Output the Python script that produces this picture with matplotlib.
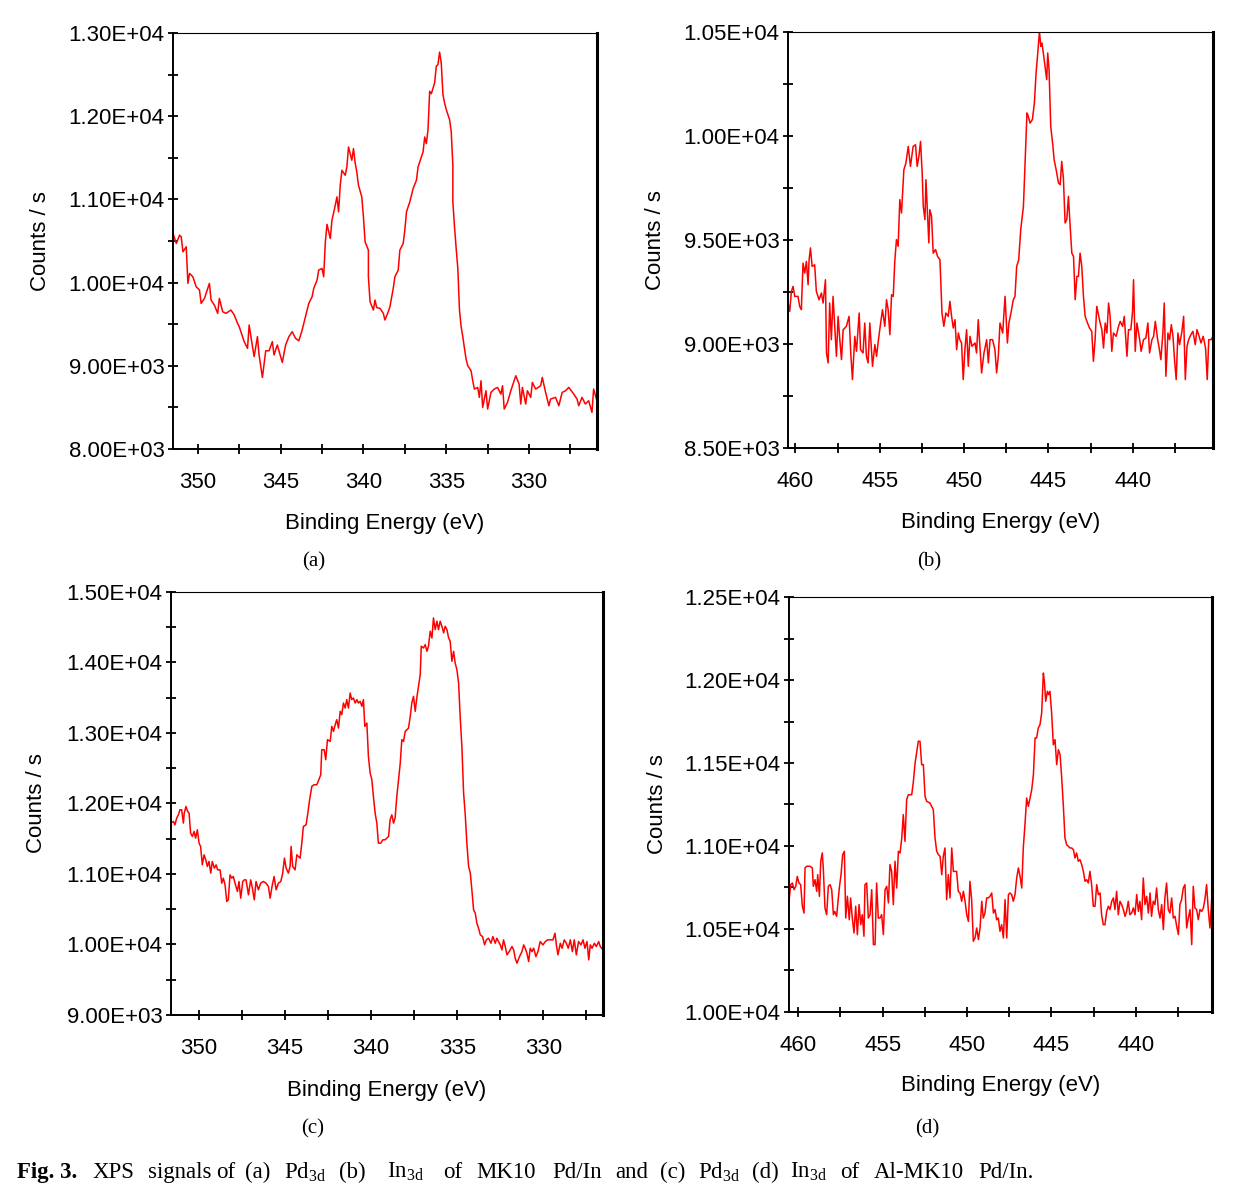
import matplotlib
matplotlib.use("Agg")  # no display
import matplotlib.pyplot as plt
from matplotlib.ticker import MultipleLocator, FuncFormatter

plt.rcParams["font.family"] = "Liberation Sans"
plt.rcParams["mathtext.fontset"] = "custom"
plt.rcParams["mathtext.rm"] = "Liberation Serif"
plt.rcParams["mathtext.it"] = "Liberation Serif:italic"
plt.rcParams["mathtext.bf"] = "Liberation Serif:bold"

# ---------------- (a) Pd3d, MK10 Pd/In ----------------
be_a = [
    351.5, 351.3, 351.1, 351.0, 350.9, 350.7, 350.6, 350.5, 350.3, 350.1,
    349.9, 349.8, 349.6, 349.3, 349.2, 349.0, 348.8, 348.7, 348.5, 348.3,
    348.0, 347.8, 347.6, 347.5, 347.2, 347.0, 346.9, 346.7, 346.6, 346.4,
    346.3, 346.1, 345.9, 345.7, 345.5, 345.4, 345.2, 344.9, 344.7, 344.5,
    344.3, 344.1, 343.9, 343.7, 343.5, 343.3, 343.1, 343.0, 342.8, 342.7,
    342.5, 342.4, 342.3, 342.2, 342.0, 341.9, 341.7, 341.6, 341.5, 341.4,
    341.3, 341.1, 341.0, 340.9, 340.7, 340.6, 340.5, 340.4, 340.3, 340.1,
    340.0, 339.9, 339.7, 339.7, 339.6, 339.4, 339.3, 339.2, 339.0, 338.8,
    338.7, 338.5, 338.4, 338.2, 338.1, 337.9, 337.8, 337.6, 337.5, 337.4,
    337.2, 337.0, 336.8, 336.7, 336.5, 336.4, 336.3, 336.2, 336.1, 336.0,
    335.9, 335.7, 335.6, 335.5, 335.4, 335.3, 335.2, 335.1, 335.0, 334.8,
    334.7, 334.6, 334.6, 334.5, 334.4, 334.3, 334.2, 334.1, 334.0, 333.9,
    333.8, 333.7, 333.5, 333.4, 333.3, 333.1, 333.0, 332.9, 332.8, 332.6,
    332.5, 332.3, 332.1, 331.9, 331.7, 331.6, 331.5, 331.3, 331.1, 330.9,
    330.8, 330.6, 330.5, 330.4, 330.2, 330.1, 329.9, 329.8, 329.6, 329.3,
    329.2, 329.0, 328.8, 328.7, 328.4, 328.2, 328.0, 327.8, 327.6, 327.3,
    327.1, 327.0, 326.8, 326.6, 326.4, 326.2, 326.1, 325.9,
]
cps_a = [
    10590, 10470, 10570, 10550, 10370, 10430, 9990, 10110, 10070, 9950,
    9910, 9750, 9810, 9990, 9790, 9730, 9630, 9810, 9650, 9630,
    9670, 9610, 9510, 9470, 9290, 9210, 9490, 9230, 9110, 9350,
    9130, 8860, 9180, 9180, 9290, 9130, 9250, 9040, 9250, 9350,
    9410, 9330, 9300, 9430, 9590, 9750, 9830, 9930, 10030, 10150,
    10170, 10070, 10490, 10700, 10530, 10750, 10930, 11030, 10850, 11170,
    11350, 11290, 11390, 11630, 11470, 11610, 11440, 11330, 11170, 11030,
    10790, 10490, 10390, 10070, 9770, 9670, 9790, 9700, 9690, 9630,
    9550, 9650, 9710, 9930, 10070, 10150, 10390, 10470, 10630, 10850,
    10970, 11130, 11230, 11390, 11510, 11570, 11750, 11670, 11840, 12300,
    12270, 12400, 12600, 12620, 12770, 12640, 12260, 12160, 12080, 11960,
    11820, 11410, 10970, 10670, 10410, 10170, 9670, 9470, 9350, 9210,
    9080, 9000, 8940, 8820, 8720, 8740, 8620, 8820, 8500, 8700,
    8480, 8680, 8720, 8740, 8660, 8760, 8480, 8560, 8700, 8820,
    8880, 8780, 8540, 8740, 8540, 8700, 8620, 8800, 8720, 8760,
    8860, 8680, 8520, 8600, 8620, 8520, 8680, 8700, 8740, 8660,
    8600, 8520, 8620, 8540, 8580, 8440, 8720, 8580,
]

# ---------------- (b) In3d, MK10 Pd/In ----------------
be_b = [
    460.44, 460.34, 460.24, 460.14, 460.04, 459.85, 459.75, 459.65, 459.55, 459.45,
    459.35, 459.25, 459.19, 459.11, 459.01, 458.86, 458.76, 458.60, 458.46, 458.36,
    458.22, 458.16, 458.06, 457.97, 457.87, 457.77, 457.67, 457.57, 457.47, 457.37,
    457.27, 457.17, 456.98, 456.82, 456.72, 456.62, 456.48, 456.38, 456.22, 456.14,
    455.99, 455.89, 455.79, 455.69, 455.59, 455.43, 455.29, 455.19, 455.10, 455.00,
    454.84, 454.70, 454.60, 454.50, 454.40, 454.30, 454.20, 454.11, 454.01, 453.91,
    453.81, 453.71, 453.57, 453.45, 453.31, 453.18, 453.02, 452.88, 452.78, 452.68,
    452.58, 452.48, 452.42, 452.32, 452.26, 452.17, 452.09, 452.03, 451.93, 451.83,
    451.69, 451.57, 451.43, 451.31, 451.20, 451.08, 450.94, 450.84, 450.74, 450.64,
    450.54, 450.44, 450.34, 450.25, 450.15, 450.05, 449.95, 449.85, 449.75, 449.65,
    449.53, 449.35, 449.26, 449.16, 449.06, 448.96, 448.82, 448.66, 448.56, 448.46,
    448.31, 448.17, 448.07, 447.97, 447.87, 447.71, 447.57, 447.43, 447.34, 447.22,
    447.08, 446.98, 446.88, 446.76, 446.64, 446.48, 446.39, 446.27, 446.19, 446.09,
    445.95, 445.83, 445.73, 445.63, 445.53, 445.45, 445.38, 445.30, 445.20, 445.10,
    445.04, 444.96, 444.86, 444.74, 444.66, 444.54, 444.40, 444.30, 444.21, 444.11,
    444.01, 443.91, 443.81, 443.71, 443.61, 443.51, 443.41, 443.31, 443.22, 443.12,
    443.02, 442.92, 442.82, 442.68, 442.56, 442.43, 442.33, 442.23, 442.13, 442.03,
    441.93, 441.83, 441.73, 441.63, 441.53, 441.43, 441.34, 441.24, 441.14, 440.98,
    440.84, 440.74, 440.60, 440.50, 440.34, 440.25, 440.11, 440.01, 439.95, 439.85,
    439.75, 439.60, 439.50, 439.36, 439.22, 439.10, 439.00, 438.86, 438.76, 438.66,
    438.52, 438.43, 438.33, 438.21, 438.13, 438.03, 437.91, 437.81, 437.71, 437.61,
    437.52, 437.42, 437.32, 437.22, 437.08, 436.98, 436.88, 436.78, 436.68, 436.55,
    436.43, 436.29, 436.19, 436.09, 435.95, 435.82, 435.68, 435.58, 435.49, 435.35,
    435.24,
]
cps_b = [
    9197, 9157, 9253, 9277, 9229, 9229, 9181, 9165, 9389, 9341,
    9397, 9285, 9405, 9462, 9373, 9381, 9253, 9213, 9245, 9197,
    9309, 8957, 8909, 9197, 9021, 9229, 9085, 8941, 9133, 9021,
    8925, 9069, 9085, 9133, 8957, 8829, 9037, 8965, 9149, 8973,
    8957, 9101, 8941, 8909, 9101, 8893, 8997, 8941, 9005, 9069,
    9165, 9085, 9213, 9165, 9045, 9237, 9229, 9397, 9502, 9470,
    9694, 9630, 9838, 9870, 9950, 9854, 9950, 9958, 9854, 9902,
    9974, 9814, 9662, 9598, 9790, 9630, 9486, 9646, 9614, 9437,
    9454, 9421, 9405, 9149, 9085, 9149, 9133, 9205, 9133, 9077,
    9117, 8973, 9053, 9021, 9005, 8829, 8973, 9069, 8893, 9037,
    8989, 9005, 8957, 9117, 8989, 8861, 8957, 9021, 8909, 9021,
    9021, 8973, 8861, 8941, 9101, 9053, 9229, 9005, 9101, 9149,
    9213, 9229, 9373, 9405, 9550, 9662, 9854, 10111, 10095, 10062,
    10079, 10159, 10303, 10399, 10503, 10431, 10447, 10399, 10335, 10271,
    10399, 10319, 10046, 9958, 9886, 9838, 9774, 9766, 9878, 9798,
    9582, 9598, 9710, 9566, 9437, 9421, 9213, 9325, 9325, 9437,
    9373, 9229, 9133, 9101, 9077, 9061, 8917, 9021, 9181, 9141,
    9101, 9069, 8981, 9101, 9053, 9197, 9133, 8965, 9053, 9037,
    9085, 9109, 9085, 9133, 8941, 9069, 9069, 9157, 9309, 8965,
    9101, 9029, 8965, 9021, 9029, 9101, 8957, 9021, 9037, 9109,
    9021, 8981, 8925, 9053, 9197, 8845, 9053, 9021, 9093, 9037,
    8925, 8829, 9053, 8997, 9061, 9133, 8829, 8989, 9021, 9045,
    9061, 8997, 9069, 9045, 9005, 9037, 8981, 8829, 9021, 9021,
    9037,
]

# ---------------- (c) Pd3d, Al-MK10 Pd/In ----------------
be_c = [
    351.63, 351.49, 351.40, 351.30, 351.20, 351.11, 351.01, 350.91, 350.86, 350.76,
    350.66, 350.58, 350.49, 350.39, 350.29, 350.20, 350.10, 350.00, 349.91, 349.81,
    349.71, 349.61, 349.52, 349.42, 349.32, 349.23, 349.11, 349.01, 348.92, 348.78,
    348.68, 348.59, 348.49, 348.39, 348.30, 348.20, 348.10, 348.01, 347.91, 347.77,
    347.68, 347.58, 347.46, 347.37, 347.27, 347.13, 347.00, 346.90, 346.79, 346.69,
    346.55, 346.42, 346.26, 346.11, 345.97, 345.87, 345.76, 345.64, 345.52, 345.39,
    345.25, 345.14, 345.04, 344.94, 344.81, 344.71, 344.65, 344.56, 344.42, 344.32,
    344.23, 344.13, 344.03, 343.94, 343.78, 343.68, 343.59, 343.45, 343.32, 343.16,
    343.04, 342.93, 342.87, 342.73, 342.64, 342.54, 342.38, 342.29, 342.19, 342.09,
    342.00, 341.90, 341.80, 341.71, 341.61, 341.51, 341.42, 341.32, 341.22, 341.13,
    341.03, 340.93, 340.83, 340.74, 340.64, 340.54, 340.45, 340.37, 340.25, 340.16,
    340.06, 339.96, 339.87, 339.77, 339.67, 339.58, 339.44, 339.32, 339.19, 338.99,
    338.90, 338.80, 338.70, 338.61, 338.51, 338.41, 338.31, 338.22, 338.12, 338.02,
    337.83, 337.73, 337.64, 337.54, 337.44, 337.35, 337.25, 337.15, 337.09, 336.96,
    336.86, 336.76, 336.67, 336.57, 336.47, 336.38, 336.28, 336.18, 336.09, 335.99,
    335.89, 335.79, 335.70, 335.60, 335.50, 335.41, 335.31, 335.21, 335.12, 335.02,
    334.92, 334.83, 334.73, 334.63, 334.54, 334.44, 334.34, 334.24, 334.15, 334.05,
    333.95, 333.86, 333.76, 333.66, 333.53, 333.41, 333.31, 333.18, 333.04, 332.93,
    332.79, 332.70, 332.60, 332.50, 332.40, 332.31, 332.21, 332.11, 331.98, 331.82,
    331.72, 331.63, 331.53, 331.38, 331.24, 331.14, 331.05, 330.95, 330.85, 330.76,
    330.66, 330.56, 330.43, 330.31, 330.18, 330.02, 329.88, 329.75, 329.59, 329.44,
    329.32, 329.24, 329.15, 329.01, 328.91, 328.78, 328.66, 328.55, 328.43, 328.31,
    328.20, 328.08, 327.95, 327.81, 327.69, 327.58, 327.46, 327.36, 327.27, 327.17,
    327.03, 326.92, 326.78, 326.69, 326.53,
]
cps_c = [
    11721, 11745, 11697, 11792, 11839, 11910, 11910, 11721, 11863, 11957,
    11886, 11863, 11579, 11532, 11603, 11508, 11626, 11437, 11390, 11129,
    11271, 11200, 11106, 11177, 11011, 11177, 11082, 11129, 11058, 11058,
    10869, 10940, 10845, 10609, 10632, 10987, 10940, 10964, 10869, 10751,
    10893, 10656, 10893, 10916, 10916, 10704, 10916, 10798, 10632, 10893,
    10775, 10869, 10893, 10869, 10822, 10656, 10822, 10964, 10775, 10869,
    10893, 11011, 11224, 11082, 11011, 11106, 11390, 11106, 11058, 11271,
    11248, 11224, 11437, 11673, 11697, 11863, 12028, 12242, 12265, 12265,
    12336, 12407, 12762, 12762, 12620, 12904, 12880, 13093, 13022, 13117,
    13188, 13069, 13306, 13259, 13424, 13353, 13472, 13353, 13566, 13472,
    13495, 13424, 13472, 13424, 13448, 13377, 13472, 13093, 13140, 12667,
    12430, 12336, 12099, 11863, 11721, 11437, 11437, 11484, 11484, 11532,
    11768, 11839, 11721, 11792, 12099, 12336, 12573, 12904, 12880, 13022,
    13069, 13235, 13424, 13519, 13306, 13495, 13661, 13827, 14229, 14205,
    14252, 14158, 14229, 14442, 14347, 14631, 14465, 14584, 14465, 14584,
    14513, 14418, 14513, 14465, 14347, 14300, 14016, 14158, 13992, 13898,
    13708, 13235, 12809, 12147, 11863, 11437, 11106, 11011, 10775, 10491,
    10443, 10301, 10230, 10136, 10112, 9994, 10065, 10088, 10017, 10112,
    10017, 10088, 10041, 9994, 9923, 10065, 9970, 9852, 9899, 9970,
    9923, 9804, 9734, 9828, 9899, 9994, 9946, 9875, 9757, 9946,
    9899, 9946, 9828, 9899, 10041, 9994, 10041, 10065, 10065, 10065,
    10159, 9994, 9852, 10017, 9946, 10065, 10017, 9946, 10065, 9899,
    10065, 9852, 10041, 9994, 10065, 9946, 10041, 9781, 9994, 9946,
    10017, 9970, 10041, 9970, 9923,
]

# ---------------- (d) In3d, Al-MK10 Pd/In ----------------
be_d = [
    460.55, 460.45, 460.35, 460.25, 460.15, 460.06, 459.96, 459.86, 459.76, 459.66,
    459.60, 459.50, 459.31, 459.17, 459.11, 459.01, 458.91, 458.85, 458.75, 458.67,
    458.58, 458.52, 458.42, 458.32, 458.22, 458.12, 458.02, 457.92, 457.84, 457.73,
    457.57, 457.47, 457.37, 457.27, 457.19, 457.09, 456.98, 456.90, 456.80, 456.70,
    456.60, 456.50, 456.40, 456.30, 456.21, 456.11, 456.05, 455.95, 455.85, 455.75,
    455.65, 455.55, 455.45, 455.36, 455.26, 455.16, 455.06, 454.96, 454.86, 454.76,
    454.66, 454.57, 454.47, 454.37, 454.27, 454.17, 454.07, 453.97, 453.87, 453.78,
    453.68, 453.58, 453.48, 453.28, 453.18, 453.08, 452.98, 452.89, 452.79, 452.69,
    452.59, 452.49, 452.39, 452.20, 452.00, 451.90, 451.80, 451.70, 451.60, 451.50,
    451.41, 451.31, 451.21, 451.11, 451.01, 450.91, 450.81, 450.71, 450.62, 450.52,
    450.42, 450.32, 450.22, 450.12, 450.02, 449.92, 449.83, 449.73, 449.63, 449.53,
    449.43, 449.33, 449.23, 449.13, 449.04, 448.94, 448.84, 448.74, 448.64, 448.54,
    448.44, 448.34, 448.25, 448.15, 448.05, 447.95, 447.85, 447.75, 447.65, 447.55,
    447.46, 447.36, 447.26, 447.16, 447.06, 446.96, 446.86, 446.76, 446.67, 446.57,
    446.47, 446.37, 446.27, 446.17, 446.07, 445.97, 445.88, 445.78, 445.68, 445.58,
    445.48, 445.42, 445.34, 445.24, 445.17, 445.09, 444.99, 444.89, 444.79, 444.69,
    444.59, 444.49, 444.40, 444.30, 444.20, 444.10, 444.00, 443.90, 443.80, 443.70,
    443.61, 443.51, 443.41, 443.31, 443.21, 443.11, 443.01, 442.91, 442.82, 442.72,
    442.62, 442.52, 442.42, 442.32, 442.22, 442.12, 442.03, 441.93, 441.83, 441.73,
    441.63, 441.53, 441.43, 441.33, 441.24, 441.14, 441.04, 440.94, 440.84, 440.74,
    440.64, 440.55, 440.45, 440.35, 440.25, 440.15, 440.05, 439.95, 439.85, 439.76,
    439.66, 439.56, 439.46, 439.36, 439.26, 439.16, 439.07, 438.97, 438.87, 438.77,
    438.67, 438.57, 438.47, 438.37, 438.28, 438.18, 438.08, 437.98, 437.88, 437.78,
    437.68, 437.58, 437.48, 437.39, 437.29, 437.19, 437.09, 436.99, 436.89, 436.79,
    436.69, 436.60, 436.50, 436.40, 436.30, 436.20, 436.10, 436.00, 435.91, 435.81,
    435.71, 435.61, 435.49,
]
cps_d = [
    10667, 10767, 10777, 10737, 10757, 10817, 10777, 10767, 10637, 10596,
    10868, 10878, 10878, 10868, 10757, 10797, 10727, 10827, 10697, 10908,
    10958, 10868, 10627, 10586, 10757, 10767, 10737, 10586, 10606, 10576,
    10747, 10827, 10948, 10968, 10566, 10697, 10556, 10687, 10566, 10476,
    10637, 10466, 10647, 10526, 10586, 10456, 10767, 10777, 10566, 10586,
    10737, 10406, 10406, 10777, 10566, 10566, 10586, 10466, 10737, 10757,
    10657, 10888, 10847, 10647, 10908, 10747, 10968, 10958, 11048, 11189,
    11028, 11279, 11309, 11309, 11390, 11500, 11570, 11631, 11631, 11490,
    11490, 11299, 11269, 11259, 11219, 11048, 10968, 10948, 10938, 10827,
    10938, 10988, 10677, 10827, 10687, 10988, 10847, 10847, 10847, 10727,
    10717, 10667, 10727, 10667, 10586, 10546, 10787, 10677, 10426, 10446,
    10506, 10436, 10506, 10667, 10566, 10596, 10687, 10687, 10697, 10717,
    10596, 10617, 10556, 10566, 10486, 10526, 10446, 10677, 10446, 10707,
    10717, 10707, 10667, 10707, 10807, 10868, 10817, 10747, 10988, 11129,
    11289, 11239, 11289, 11339, 11430, 11651, 11651, 11711, 11731, 11801,
    12042, 11992, 11872, 11932, 11912, 11932, 11801, 11610, 11641, 11490,
    11580, 11550, 11420, 11249, 11048, 11008, 10998, 10988, 10988, 10978,
    10928, 10958, 10908, 10918, 10888, 10847, 10787, 10797, 10777, 10847,
    10767, 10637, 10637, 10767, 10707, 10717, 10586, 10526, 10526, 10606,
    10637, 10617, 10667, 10687, 10617, 10727, 10586, 10667, 10647, 10617,
    10576, 10606, 10667, 10586, 10596, 10627, 10586, 10707, 10606, 10667,
    10556, 10807, 10647, 10697, 10596, 10717, 10576, 10667, 10647, 10747,
    10617, 10566, 10647, 10496, 10687, 10777, 10617, 10596, 10687, 10566,
    10576, 10516, 10466, 10647, 10677, 10747, 10767, 10506, 10566, 10617,
    10406, 10757, 10627, 10617, 10556, 10617, 10606, 10627, 10677, 10767,
    10617, 10506, 10707,
]

_COR_LINHA = "#ff0000"
_FONTE_TICK = 16
_FONTE_LEGENDA = 16.5

# (rect in figure fractions, x, y, xlim, ylim, y major step, letter, letter pos)
_PAINEIS = [
    ([0.1395, 0.6227, 0.3419, 0.3496], be_a, cps_a, (351.5, 325.9), (8000, 13000), 1000, "(a)", (0.253, 0.5275)),
    ([0.6355, 0.6235, 0.3427, 0.3496], be_b, cps_b, (460.44, 435.24), (8500, 10500), 500, "(b)", (0.749, 0.5275)),
    ([0.1379, 0.1471, 0.3484, 0.3555], be_c, cps_c, (351.63, 326.53), (9000, 15000), 1000, "(c)", (0.252, 0.0515)),
    ([0.6363, 0.1496, 0.3411, 0.3487], be_d, cps_d, (460.55, 435.49), (10000, 12500), 500, "(d)", (0.748, 0.0515)),
]

# caption words and their centre (pixels); the original is justified
_LEGENDA = [
    ("XPS", 113.5), ("signals", 179.5), ("of", 225.5), ("(a)", 258), (r"Pd$_{\rm 3d}$", 305),
    ("(b)", 352), (r"In$_{\rm 3d}$", 406), ("of", 452.5), ("MK10", 506), ("Pd/In", 577.5),
    ("and", 631.5), ("(c)", 672.5), (r"Pd$_{\rm 3d}$", 719), ("(d)", 765), (r"In$_{\rm 3d}$", 808.5),
    ("of", 850), ("Al-MK10", 918.5), ("Pd/In.", 1005.5),
]

fig = plt.figure(figsize=(12.4, 11.9), dpi=100)
fig.patch.set_facecolor("white")

for ret, be, cps, xlim, ylim, passo_y, letra, pos_letra in _PAINEIS:
    ax = fig.add_axes(ret)
    ax.plot(be, cps, color=_COR_LINHA, linewidth=1.1)
    ax.set_xlim(*xlim)
    ax.set_ylim(*ylim)

    ax.xaxis.set_major_locator(MultipleLocator(5))
    ax.xaxis.set_minor_locator(MultipleLocator(2.5))
    ax.yaxis.set_major_locator(MultipleLocator(passo_y))
    ax.yaxis.set_minor_locator(MultipleLocator(passo_y / 2))
    ax.yaxis.set_major_formatter(FuncFormatter(lambda v, _: f"{v:.2E}"))
    ax.xaxis.set_major_formatter(FuncFormatter(lambda v, _: f"{v:.0f}"))

    ax.tick_params(which="both", direction="inout", length=7, width=1.3, color="black")
    ax.tick_params(axis="y", which="major", labelsize=_FONTE_TICK, pad=2.5)
    ax.tick_params(axis="x", which="major", labelsize=_FONTE_TICK, pad=13)

    ax.spines["left"].set_linewidth(1.4)
    ax.spines["bottom"].set_linewidth(1.4)
    ax.spines["top"].set_linewidth(0.8)
    ax.spines["right"].set_linewidth(2.2)

    ax.set_ylabel("Counts / s", fontsize=_FONTE_TICK)
    ax.yaxis.set_label_coords(-0.287, 0.5)
    ax.set_xlabel("Binding Energy (eV)", fontsize=_FONTE_TICK)
    ax.xaxis.set_label_coords(0.5, -0.153)

    fig.text(pos_letra[0], pos_letra[1], letra, fontsize=15, ha="center", va="center",
             family="Liberation Serif")

# ------- legenda da figura -------
fig.text(17 / 1240, 0.015, "Fig. 3.", fontsize=_FONTE_LEGENDA, fontweight="bold",
         ha="left", va="center", family="Liberation Serif")
for palavra, x_px in _LEGENDA:
    fig.text(x_px / 1240, 0.015, palavra, fontsize=_FONTE_LEGENDA, ha="center", va="center",
             family="Liberation Serif")

fig.savefig("out.png", dpi=100, facecolor="white")
